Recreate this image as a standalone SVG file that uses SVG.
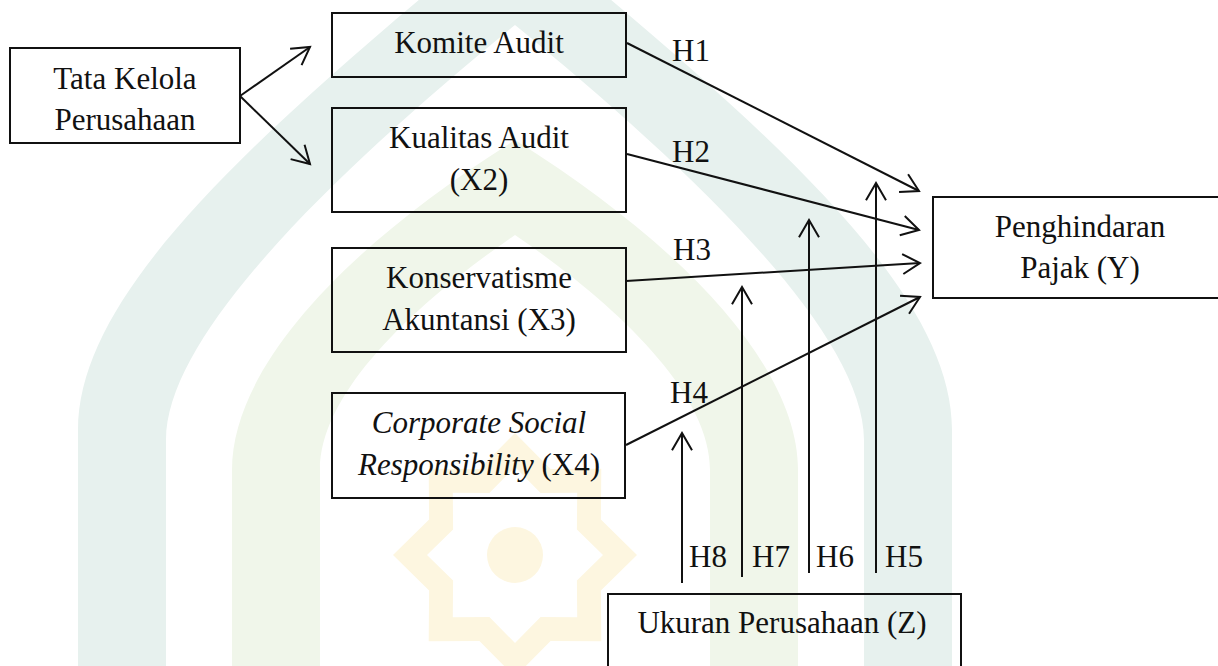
<svg xmlns="http://www.w3.org/2000/svg" width="1218" height="666" viewBox="0 0 1218 666">
<style>
.box{fill:none;stroke:#111;stroke-width:2}
.t{font-family:"Liberation Serif","Times New Roman",serif;font-size:31px;fill:#111}
.c{text-anchor:middle}
.i{font-style:italic}
.con{stroke:#111;stroke-width:2;fill:none;marker-end:url(#arr)}
</style>
<defs>
<marker id="arr" markerUnits="userSpaceOnUse" markerWidth="24" markerHeight="24" viewBox="-20 -12 24 24" refX="0" refY="0" orient="auto" overflow="visible">
<path d="M-17.3,-10 L0,0 L-17.3,10" fill="none" stroke="#111" stroke-width="2"/>
</marker>
</defs>
<rect width="1218" height="666" fill="#fff"/>
<g id="watermark">
<path fill="#e7f1ee" fill-rule="evenodd" d="M78,666 L78,430 C78,290 260,130 515,-80 C770,130 952,290 952,430 L952,666 Z M166,666 L166,440 C166,330 350,160 515,25 C680,160 864,330 864,440 L864,666 Z"/>
<path fill="#f0f6ea" fill-rule="evenodd" d="M232,666 L232,470 C232,370 340,250 515,140 C690,250 798,370 798,470 L798,666 Z M320,666 L320,470 C320,390 420,300 515,235 C610,300 710,390 710,470 L710,666 Z"/>
<path fill="#fdf6e0" fill-rule="evenodd" d="M515,433 L550.6,469.1 L601.3,468.7 L600.9,519.4 L637,555 L600.9,590.6 L601.3,641.3 L550.6,640.9 L515,677 L479.4,640.9 L428.7,641.3 L429.1,590.6 L393,555 L429.1,519.4 L428.7,468.7 L479.4,469.1 Z M515,467 L540.6,493.1 L577.2,492.8 L576.9,529.4 L603,555 L576.9,580.6 L577.2,617.2 L540.6,616.9 L515,643 L489.4,616.9 L452.8,617.2 L453.1,580.6 L427,555 L453.1,529.4 L452.8,492.8 L489.4,493.1 Z"/>
<circle cx="515" cy="555" r="28" fill="#fdf6e0"/>
</g>
<g id="connectors">
<path class="con" d="M240,96 L310,47"/>
<path class="con" d="M240,96 L310,164"/>
<path class="con" d="M627,43 L919,191"/>
<path class="con" d="M627,154 L919,230"/>
<path class="con" d="M626,281 L920,263"/>
<path class="con" d="M626,445 L920,297"/>
<path class="con" d="M682,583 L682,433"/>
<path class="con" d="M742,577 L742,287"/>
<path class="con" d="M809,573 L809,220"/>
<path class="con" d="M876,573 L876,183"/>
<text class="t" x="672" y="61">H1</text>
<text class="t" x="672" y="162">H2</text>
<text class="t" x="673" y="260">H3</text>
<text class="t" x="670" y="403">H4</text>
<text class="t" x="689" y="567">H8</text>
<text class="t" x="752" y="567">H7</text>
<text class="t" x="816" y="567">H6</text>
<text class="t" x="885" y="567">H5</text>
</g>
<g id="tata-kelola">
<rect class="box" x="10" y="48" width="230" height="95"/>
<text class="t c" x="125" y="89">Tata Kelola</text>
<text class="t c" x="125" y="130">Perusahaan</text>
</g>
<g id="komite-audit">
<rect class="box" x="332" y="13" width="294" height="64"/>
<text class="t c" x="479" y="53">Komite Audit</text>
</g>
<g id="kualitas-audit">
<rect class="box" x="332" y="108" width="294" height="104"/>
<text class="t c" x="479" y="148">Kualitas Audit</text>
<text class="t c" x="479" y="190">(X2)</text>
</g>
<g id="konservatisme">
<rect class="box" x="332" y="248" width="294" height="104"/>
<text class="t c" x="479" y="288">Konservatisme</text>
<text class="t c" x="479" y="330">Akuntansi (X3)</text>
</g>
<g id="csr">
<rect class="box" x="332" y="393" width="293" height="105"/>
<text class="t c i" x="479" y="433">Corporate Social</text>
<text class="t c" x="479" y="475"><tspan class="i">Responsibility</tspan> (X4)</text>
</g>
<g id="penghindaran">
<rect class="box" x="933" y="197" width="294" height="101"/>
<text class="t c" x="1080" y="237">Penghindaran</text>
<text class="t c" x="1080" y="278">Pajak (Y)</text>
</g>
<g id="ukuran">
<rect class="box" x="608" y="594" width="353" height="90"/>
<text class="t c" x="782" y="633">Ukuran Perusahaan (Z)</text>
</g>
</svg>
